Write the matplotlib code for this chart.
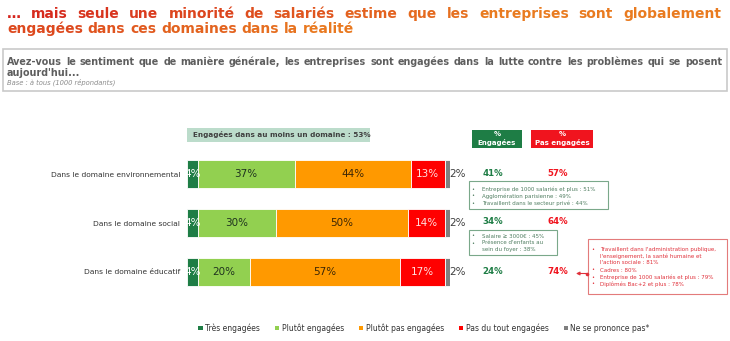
import matplotlib
matplotlib.use("Agg")
import matplotlib.pyplot as plt
import numpy as np
from matplotlib.patches import Rectangle, Patch

# Survey results, % of respondents per domain
domains = ["Dans le domaine environnemental", "Dans le domaine social", "Dans le domaine éducatif"]
categories = ["Très engagées", "Plutôt engagées", "Plutôt pas engagées",
              "Pas du tout engagées", "Ne se prononce pas*"]
tres = [4, 4, 4]
plutot = [37, 30, 20]
plutot_pas = [44, 50, 57]
pas_du_tout = [13, 14, 17]
nsp = [2, 2, 2]
pct_engagees = [41, 34, 24]
pct_pas_engagees = [57, 64, 74]
au_moins_un = 53

series = [tres, plutot, plutot_pas, pas_du_tout, nsp]
colors = ["#1e7d45", "#92d050", "#ff9900", "#ff0000", "#7f7f7f"]
label_colors = ["white", "#1f321f", "#3b2606", "#ffe0e0", None]

GREEN = "#1e7d45"
RED = "#f0141e"
W, H = 730, 341

fig = plt.figure(figsize=(W / 100, H / 100), dpi=100)

# ---- bar axes, placed in pixel terms ----
bx0, bx1 = 187, 450
by0, by1 = 149.5, 296.5
ax = fig.add_axes([bx0 / W, 1 - by1 / H, (bx1 - bx0) / W, (by1 - by0) / H])
ypos = np.arange(len(domains))
left = np.zeros(len(domains))
for vals, col, lc in zip(series, colors, label_colors):
    vals = np.array(vals, dtype=float)
    ax.barh(ypos, vals, left=left, height=0.57, color=col, edgecolor="white", linewidth=0.6)
    for y, v, l0 in zip(ypos, vals, left):
        if lc is None:
            ax.text(l0 + v - 0.4, y, f"{v:.0f}%", ha="left", va="center",
                    fontsize=7.5, color="#404040")
        else:
            ax.text(l0 + v / 2, y, f"{v:.0f}%", ha="center", va="center",
                    fontsize=7.5, color=lc)
    left += vals
ax.set_xlim(0, 100)
ax.set_ylim(2.5, -0.5)
ax.set_yticks(ypos, domains, fontsize=5.4, color="#333333")
ax.tick_params(axis="y", length=0, pad=5)
ax.set_xticks([])
for s in ax.spines.values():
    s.set_visible(False)

# ---- overlay in pixel coordinates for all annotations ----
ov = fig.add_axes([0, 0, 1, 1], zorder=5)
ov.set_xlim(0, W)
ov.set_ylim(H, 0)
ov.axis("off")
ov.patch.set_alpha(0)

renderer = fig.canvas.get_renderer()


def text_width(s, **kw):
    t = ov.text(0, 0, s, **kw)
    w = t.get_window_extent(renderer).width
    t.remove()
    return w


def justify(words, x0, x1, y, **kw):
    texts = [ov.text(0, y, w, ha="left", va="baseline", **kw) for w in words]
    widths = [t.get_window_extent(renderer).width for t in texts]
    gap = (x1 - x0 - sum(widths)) / max(len(words) - 1, 1)
    x = x0
    for t, w in zip(texts, widths):
        t.set_x(x)
        x += w + gap
    return texts


def flow(words, x0, y, **kw):
    # words laid out with normal spacing, kept separate so each can be coloured
    texts = []
    for i, w in enumerate(words):
        prefix = " ".join(words[:i + 1])
        x = x0 + text_width(prefix, **kw) - text_width(w, **kw)
        texts.append(ov.text(x, y, w, ha="left", va="baseline", **kw))
    return texts


def blend(c0, c1, t):
    c0 = np.array(matplotlib.colors.to_rgb(c0))
    c1 = np.array(matplotlib.colors.to_rgb(c1))
    return tuple(c0 + (c1 - c0) * t)


# title, red to orange gradient word by word
t_red, t_orange = "#d4231d", "#e97b20"
tkw = dict(fontsize=10, fontweight="bold")
line1 = "… mais seule une minorité de salariés estime que les entreprises sont globalement".split()
line2 = "engagées dans ces domaines dans la réalité".split()
for txts, off in [(justify(line1, 7, 721, 18, **tkw), 0.0), (flow(line2, 7, 33, **tkw), 0.35)]:
    for t in txts:
        bb = t.get_window_extent(renderer)
        t.set_color(blend(t_red, t_orange, np.clip((bb.x0 + bb.x1) / 2 / 520 + off, 0, 1)))

# question box
ov.add_patch(Rectangle((3, 49), 724, 42, facecolor="white", edgecolor="#c9c9c9", lw=1.2))
qkw = dict(fontsize=6.9, fontweight="bold", color="#5e5e5e")
q1 = ("Avez-vous le sentiment que de manière générale, les entreprises sont engagées "
      "dans la lutte contre les problèmes qui se posent").split()
justify(q1, 7, 722, 65, **qkw)
ov.text(7, 75.5, "aujourd'hui...", ha="left", va="baseline", **qkw)
ov.text(7, 85, "Base : à tous (1000 répondants)", ha="left", va="baseline",
        fontsize=4.9, style="italic", color="#8c8c8c")

# "at least one domain" banner
ov.add_patch(Rectangle((187, 128), 183, 14, facecolor="#bcdccb", edgecolor="none"))
ov.text(193, 135, f"Engagées dans au moins un domaine : {au_moins_un}%", ha="left",
        va="center", fontsize=5.2, fontweight="bold", color="#404040")

# column headers
ov.add_patch(Rectangle((472, 130), 50, 17.5, facecolor=GREEN, edgecolor="none"))
ov.add_patch(Rectangle((531, 130), 62, 17.5, facecolor=RED, edgecolor="none"))
for xc, head in [(497, "Engagées"), (562, "Pas engagées")]:
    ov.text(xc, 134.5, "%", ha="center", va="center", fontsize=5,
            fontweight="bold", color="white")
    ov.text(xc, 142.5, head, ha="center", va="center", fontsize=5,
            fontweight="bold", color="white")

row_y = [173, 222, 272]
for y, e, p in zip(row_y, pct_engagees, pct_pas_engagees):
    ov.text(493, y, f"{e}%", ha="center", va="center", fontsize=6.2,
            fontweight="bold", color=GREEN)
    ov.text(558, y, f"{p}%", ha="center", va="center", fontsize=6.2,
            fontweight="bold", color=RED)


def note_box(x0, y0, x1, y1, lines, ys, bullets, edge, tcolor, tx, bxp):
    ov.add_patch(Rectangle((x0, y0), x1 - x0, y1 - y0, facecolor="white",
                           edgecolor=edge, lw=0.8))
    for txt, y, b in zip(lines, ys, bullets):
        if b:
            ov.text(bxp, y, "•", ha="center", va="center", fontsize=3.6, color=tcolor)
        ov.text(tx, y, txt, ha="left", va="center", fontsize=4.0, color=tcolor)


note_box(469, 181, 608, 209,
         ["Entreprise de 1000 salariés et plus : 51%",
          "Agglomération parisienne : 49%",
          "Travaillent dans le secteur privé : 44%"],
         [189, 196, 203], [True, True, True], "#7aa88a", "#4f7d60", 482, 473)
note_box(469, 230, 557, 255,
         ["Salaire ≥ 3000€ : 45%", "Présence d'enfants au", "sein du foyer : 38%"],
         [236, 243, 250], [True, True, False], "#7aa88a", "#4f7d60", 482, 473)
note_box(588, 239, 727, 294,
         ["Travaillent dans l'administration publique,",
          "l'enseignement, la santé humaine et",
          "l'action sociale : 81%",
          "Cadres : 80%",
          "Entreprise de 1000 salariés et plus : 79%",
          "Diplômés Bac+2 et plus : 78%"],
         [249, 256, 263, 270, 277, 284],
         [True, False, False, True, True, True], "#e37b7b", "#e0303a", 600, 593)

ov.annotate("", xy=(576, 273.5), xytext=(587, 273.5),
            arrowprops=dict(arrowstyle="-|>", color="#e0303a", lw=0.8,
                            mutation_scale=5, shrinkA=0, shrinkB=0))
ov.plot([587], [273.5], "o", ms=1.6, color="#e0303a")

# legend
handles = [Patch(facecolor=c, edgecolor="none") for c in colors]
fig.legend(handles, categories, loc="center", bbox_to_anchor=(424 / W, 1 - 328 / H),
           ncol=5, frameon=False, fontsize=5.5, handlelength=0.55, handleheight=0.55,
           handletextpad=0.3, columnspacing=2.0, labelcolor="#333333")

fig.savefig("out.png", dpi=100, facecolor="white")
